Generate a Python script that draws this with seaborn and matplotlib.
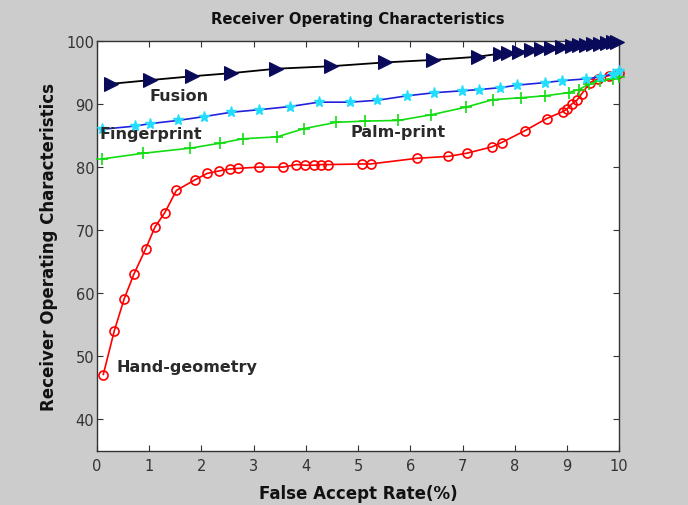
import matplotlib
matplotlib.use("Agg")
import matplotlib.pyplot as plt
import seaborn as sns
import pandas as pd

# ---- data ----
fusion_x = [0.26, 1.02, 1.81, 2.57, 3.43, 4.48, 5.51, 6.43, 7.29, 7.72, 7.88, 8.08,
            8.31, 8.51, 8.70, 8.90, 9.10, 9.23, 9.37, 9.50, 9.63, 9.76, 9.89, 9.96]
fusion_y = [93.2, 93.8, 94.4, 94.9, 95.6, 96.0, 96.6, 97.0, 97.5, 98.0, 98.1, 98.3,
            98.5, 98.7, 98.9, 99.0, 99.2, 99.3, 99.4, 99.5, 99.6, 99.7, 99.8, 99.9]

finger_x = [0.10, 0.72, 1.02, 1.55, 2.04, 2.57, 3.10, 3.69, 4.25, 4.85, 5.37, 5.93,
            6.46, 6.99, 7.32, 7.72, 8.05, 8.57, 8.90, 9.37, 9.63, 9.89, 10.0]
finger_y = [86.0, 86.5, 86.9, 87.4, 88.0, 88.7, 89.1, 89.6, 90.3, 90.3, 90.6, 91.3,
            91.8, 92.1, 92.3, 92.6, 93.0, 93.4, 93.7, 94.0, 94.3, 94.8, 95.2]

palm_x = [0.10, 0.89, 1.78, 2.36, 2.80, 3.45, 3.96, 4.58, 5.14, 5.77, 6.40, 7.06,
          7.58, 8.11, 8.57, 9.03, 9.23, 9.43, 9.63, 9.89, 10.0]
palm_y = [81.3, 82.2, 83.0, 83.8, 84.5, 84.8, 86.1, 87.1, 87.3, 87.4, 88.3, 89.5,
          90.7, 91.0, 91.3, 91.8, 92.3, 93.2, 93.7, 94.0, 94.3]

hand_x = [0.12, 0.33, 0.52, 0.71, 0.93, 1.11, 1.30, 1.52, 1.88, 2.11, 2.34, 2.54,
          2.70, 3.10, 3.56, 3.82, 3.99, 4.15, 4.29, 4.42, 5.08, 5.24, 6.13, 6.73,
          7.08, 7.56, 7.75, 8.20, 8.61, 8.92, 9.00, 9.09, 9.19, 9.28, 9.44, 9.60,
          9.80, 10.0]
hand_y = [47.1, 54.0, 59.1, 63.1, 67.0, 70.5, 72.8, 76.3, 78.0, 79.0, 79.4, 79.7,
          79.8, 80.0, 80.0, 80.4, 80.3, 80.3, 80.4, 80.4, 80.5, 80.5, 81.4, 81.7,
          82.2, 83.2, 83.9, 85.8, 87.7, 88.8, 89.2, 90.0, 90.6, 91.6, 93.4, 94.0,
          94.5, 94.9]

labels = ["Fusion", "Fingerprint", "Palm-print", "Hand-geometry"]
label_pos = [(1.0, 91.3), (0.05, 85.4), (4.85, 85.6), (0.38, 48.3)]

x_ticks = list(range(0, 11))
y_ticks = [40, 50, 60, 70, 80, 90, 100]

title = "Receiver Operating Characteristics"
xlabel = "False Accept Rate(%)"
ylabel = "Receiver Operating Characteristics"

# ---- plot ----
sns.set_theme(style="white")
plt.rcParams["font.family"] = ["DejaVu Sans"]

fig = plt.figure(figsize=(6.88, 5.06), dpi=100, facecolor="#cccccc")
ax = fig.add_axes([0.141, 0.107, 0.759, 0.810])
ax.set_facecolor("white")

def draw(xs, ys, **kw):
    df = pd.DataFrame({"x": xs, "y": ys})
    sns.lineplot(data=df, x="x", y="y", ax=ax, sort=False, estimator=None,
                 clip_on=False, zorder=3, **kw)

draw(hand_x, hand_y, color="red", marker="o", markersize=6.5, markerfacecolor="none",
     markeredgecolor="red", markeredgewidth=1.2, linewidth=1.2)
draw(palm_x, palm_y, color="#11dd11", marker="+", markersize=8,
     markeredgecolor="#11dd11", markeredgewidth=1.2, linewidth=1.2)
draw(finger_x, finger_y, color="#2222dd", marker="*", markersize=8,
     markeredgecolor="#22ddff", markerfacecolor="#22ddff", markeredgewidth=1.0,
     linewidth=1.2)
draw(fusion_x, fusion_y, color="black", marker=">", markersize=10,
     markerfacecolor="#0a0a5a", markeredgecolor="#0a0a5a", linewidth=1.3)

for lab, (tx, ty) in zip(labels, label_pos):
    ax.text(tx, ty, lab, fontsize=11.5, fontweight="bold", color="#2a2a2a",
            va="center", ha="left", zorder=4)

ax.set_xlim(0, 10)
ax.set_ylim(35, 100)
ax.set_xticks(x_ticks)
ax.set_yticks(y_ticks)
ax.tick_params(direction="in", length=4, width=0.8, colors="#333333",
               top=True, right=True, bottom=True, left=True, labelsize=10.5,
               labelcolor="#333333")
ax.tick_params(axis="y", pad=2)
ax.tick_params(axis="x", pad=5)
for s in ax.spines.values():
    s.set_color("#333333")
    s.set_linewidth(1.0)

ax.set_title(title, fontsize=10.7, fontweight="bold", color="#111111", pad=13)
ax.set_xlabel(xlabel, fontsize=12, fontweight="bold", color="#111111", labelpad=8)
ax.set_ylabel(ylabel, fontsize=12, fontweight="bold", color="#111111", labelpad=6)

fig.savefig("out.png", dpi=100, facecolor=fig.get_facecolor())
